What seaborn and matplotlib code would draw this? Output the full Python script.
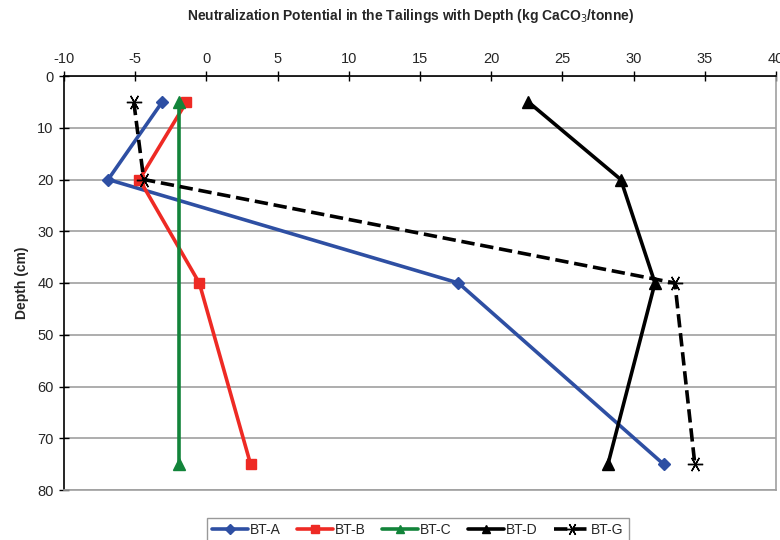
import matplotlib
matplotlib.use("Agg")
import matplotlib.pyplot as plt  # noqa
import seaborn as sns

# depth (cm) and neutralization potential (kg CaCO3/tonne) per tailings site
depth = [5, 20, 40, 75]
bt_a = [-3.1, -6.9, 17.7, 32.1]
bt_b = [-1.4, -4.7, -0.5, 3.1]
bt_c_depth = [5, 75]
bt_c = [-1.9, -1.9]
bt_d = [22.6, 29.1, 31.5, 28.2]
bt_g = [-5.1, -4.4, 32.9, 34.3]

x_ticks = list(range(-10, 45, 5))
y_ticks = list(range(0, 90, 10))

sns.set_style("white")
plt.rcParams["font.family"] = ["Liberation Sans", "DejaVu Sans"]
plt.rcParams["axes.unicode_minus"] = False

fig = plt.figure(figsize=(7.8, 5.4), dpi=100)
ax = fig.add_axes([64 / 780, 1 - 490 / 540, 712 / 780, 414 / 540])

asterisk = (6, 2, 90)
series = [
    ("BT-A", bt_a, depth, "#2E4FA3", "D", "-", 6, 1),
    ("BT-B", bt_b, depth, "#EE2A24", "s", "-", 7, 1),
    ("BT-C", bt_c, bt_c_depth, "#12843A", "^", "-", 8, 1),
    ("BT-D", bt_d, depth, "black", "^", "-", 8, 1),
    ("BT-G", bt_g, depth, "black", asterisk, "--", 11, 1),
]
for name, xs, ys, col, mk, ls, ms, mew in series:
    sns.lineplot(x=xs, y=ys, sort=False, estimator=None, ax=ax, color=col,
                 marker=mk, markersize=ms, linestyle=ls, linewidth=2.6,
                 markeredgecolor=col, markerfacecolor=col,
                 markeredgewidth=mew, label=name, legend=False)

ax.set_xlim(-10, 40)
ax.set_ylim(80, 0)
ax.set_xticks(x_ticks)
ax.set_yticks(y_ticks)
ax.xaxis.tick_top()
ax.tick_params(axis="both", which="major", direction="inout", length=7,
               width=1, labelsize=10.5, color="black", pad=4,
               top=True, bottom=False, left=True)
ax.grid(axis="y", color="#a0a0a0", linewidth=1.2)
ax.set_axisbelow(True)
for side in ["right", "bottom"]:
    ax.spines[side].set_color("#a0a0a0")
    ax.spines[side].set_linewidth(1.2)
for side in ["top", "left"]:
    ax.spines[side].set_color("black")
    ax.spines[side].set_linewidth(1.2)

ax.set_xlabel("")
ax.set_ylabel("Depth (cm)", fontsize=10, fontweight="bold", labelpad=6)
fig.text(411 / 780, 1 - 16 / 540,
         "Neutralization Potential in the Tailings with Depth (kg CaCO$_3$/tonne)",
         ha="center", va="center", fontsize=10, fontweight="bold")

handles, labels = ax.get_legend_handles_labels()
leg = fig.legend(handles, labels, loc="upper center", ncol=5,
                 bbox_to_anchor=(418 / 780, 1 - 511 / 540), frameon=True,
                 fancybox=False, edgecolor="#808080", fontsize=10,
                 handlelength=2.6, handletextpad=0.1, columnspacing=1.2,
                 borderpad=0.35, markerscale=0.8)
leg.get_frame().set_linewidth(1.0)

plt.savefig("out.png", dpi=100)
